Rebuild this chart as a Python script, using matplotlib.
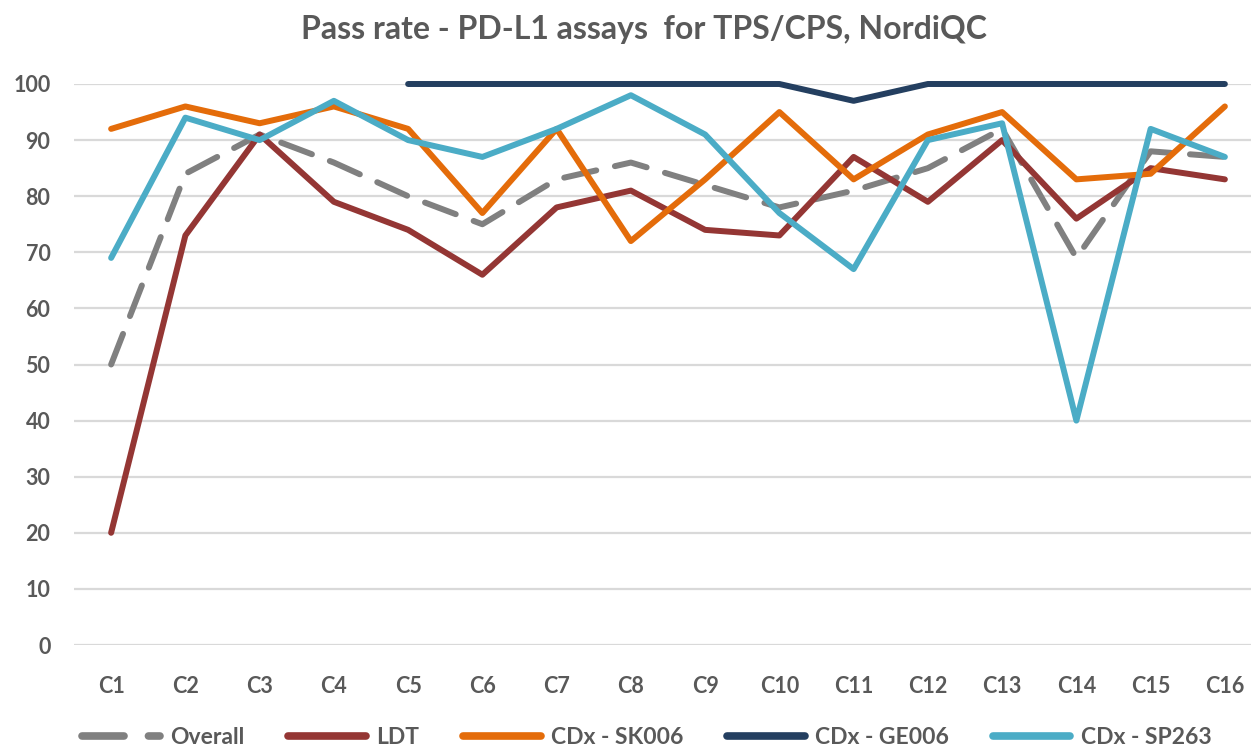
import numpy as np
import matplotlib.pyplot as plt

# Pass rate values per NordiQC run
runs = ["C1", "C2", "C3", "C4", "C5", "C6", "C7", "C8",
        "C9", "C10", "C11", "C12", "C13", "C14", "C15", "C16"]
overall = [50, 84, 91, 86, 80, 75, 83, 86, 82, 78, 81, 85, 92, 69, 88, 87]
ldt = [20, 73, 91, 79, 74, 66, 78, 81, 74, 73, 87, 79, 90, 76, 85, 83]
sk006 = [92, 96, 93, 96, 92, 77, 92, 72, 83, 95, 83, 91, 95, 83, 84, 96]
ge006 = [np.nan, np.nan, np.nan, np.nan, 100, 100, 100, 100, 100, 100, 97, 100, 100, 100, 100, 100]
sp263 = [69, 94, 90, 97, 90, 87, 92, 98, 91, 77, 67, 90, 93, 40, 92, 87]

plt.rcParams['font.family'] = ['Lato', 'DejaVu Sans']
plt.rcParams['font.weight'] = 'bold'
text_col = "#595959"

fig = plt.figure(figsize=(12.51, 7.47), dpi=100)
ax = fig.add_axes([74 / 1251, 1 - 645 / 747, 1188 / 1251, (645 - 84) / 747])

x = np.arange(len(runs))
lw = 4.3
ax.plot(x, overall, color="#808080", lw=lw, dashes=(5.5, 3.2), dash_capstyle="round",
        solid_capstyle="round", label="Overall", clip_on=False, zorder=3)
ax.plot(x, ldt, color="#943634", lw=lw, solid_capstyle="round", label="LDT", clip_on=False, zorder=3)
ax.plot(x, sk006, color="#E46C0A", lw=lw, solid_capstyle="round", label="CDx - SK006", clip_on=False, zorder=3)
ax.plot(x, ge006, color="#243F60", lw=lw, solid_capstyle="round", label="CDx - GE006", clip_on=False, zorder=3)
ax.plot(x, sp263, color="#4BACC6", lw=lw, solid_capstyle="round", label="CDx - SP263", clip_on=False, zorder=3)

ax.set_xlim(-0.5, len(runs) - 0.5)
ax.set_ylim(0, 100)
ax.set_yticks(range(0, 101, 10))
ax.set_xticks(x)
ax.set_xticklabels(runs)
ax.yaxis.grid(True, color="#D9D9D9", lw=1.6)
ax.set_axisbelow(True)
for s in ax.spines.values():
    s.set_visible(False)
ax.tick_params(length=0, labelsize=15.5, labelcolor=text_col)
ax.tick_params(axis="x", pad=22)
ax.tick_params(axis="y", pad=17)

fig.text(0.515, 1 - 30 / 747, "Pass rate - PD-L1 assays  for TPS/CPS, NordiQC",
         ha="center", va="center", fontsize=23, color=text_col, fontweight="bold")

leg = fig.legend(loc="center", bbox_to_anchor=(0.517, 1 - 738 / 747), ncol=5, frameon=False,
                 fontsize=16.5, handlelength=3.4, handletextpad=0.45, columnspacing=1.9,
                 labelcolor=text_col)
for h in leg.get_lines():
    h.set_linewidth(5.5)

fig.savefig("out.png", dpi=100)
